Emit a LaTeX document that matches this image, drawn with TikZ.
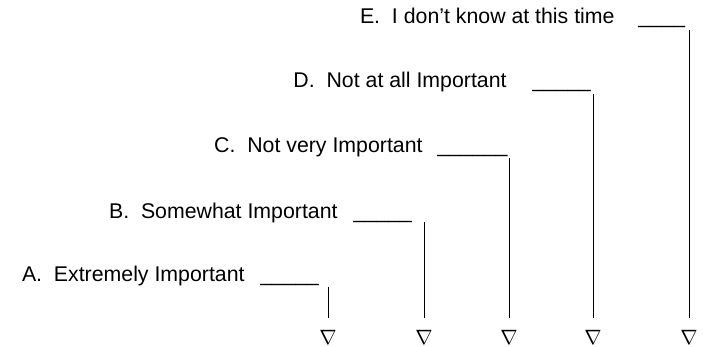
\documentclass[tikz,border=0pt]{standalone}
\usepackage{fontspec}
\setmainfont{Liberation Sans}
\begin{document}
\begin{tikzpicture}[x=1pt,y=1pt,line width=0.9pt,
  answer/.style={anchor=base east,inner sep=0pt,font=\fontsize{21.3}{25}\selectfont},
  blank/.style={anchor=base west,inner sep=0pt,font=\fontsize{21}{25}\selectfont},
  tri/.style={anchor=north,inner sep=0pt,font=\fontsize{20}{24}\selectfont}]
\useasboundingbox (0,0) rectangle (703,-346);
\foreach \key/\txt/\endx/\base/\blankx/\line/\linex/\top in {
  A/{A.\ \ Extremely Important}/245/281/260/{\_\_\_\_\_}/328/287,
  B/{B.\ \ Somewhat Important}/338/218/353/{\_\_\_\_\_}/424/222,
  C/{C.\ \ Not very Important}/423/152/437/{\_\_\_\_\_\_}/509/158,
  D/{D.\ \ Not at all Important}/507/87/532/{\_\_\_\_\_}/593/94,
  E/{E.\ \ I don’t know at this time}/615/23/638/{\_\_\_\_}/689/30}{
  \node[answer] (opt\key) at (\endx,-\base) {\txt};
  \node[blank] (blank\key) at (\blankx,-\base) {\line};
  \node[tri] (tri\key) at (\linex,-330) {$\nabla$};
  \coordinate (top\key) at (\linex,-\top);
  \draw[shorten >=12pt] (top\key) -- (tri\key.north);
}
\end{tikzpicture}
\end{document}
